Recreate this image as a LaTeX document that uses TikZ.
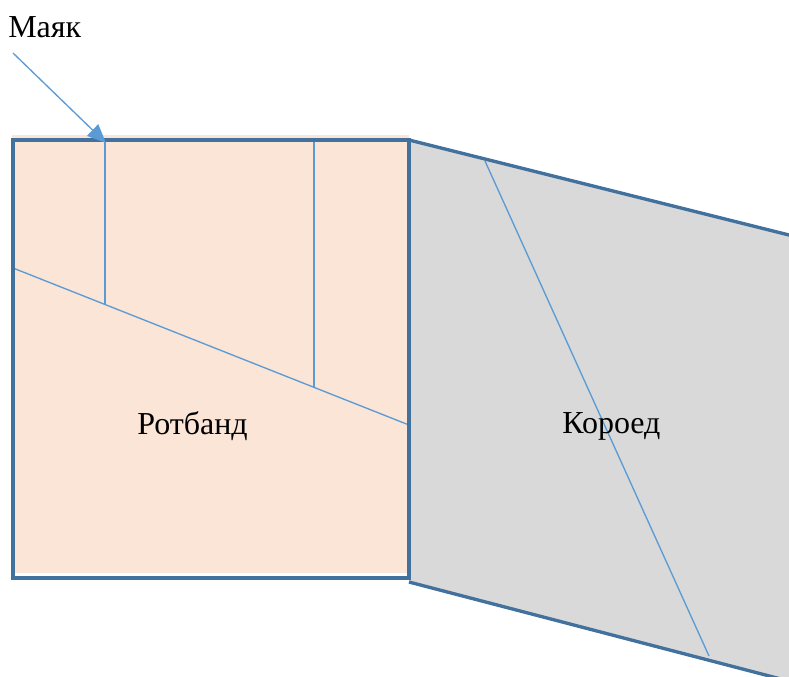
\documentclass[tikz,border=0pt]{standalone}
\usepackage{fontspec}
\setmainfont{Liberation Serif}
\usetikzlibrary{arrows.meta}
\definecolor{frame}{HTML}{41719C}
\definecolor{thin}{HTML}{5B9BD5}
\definecolor{peach}{HTML}{FBE5D6}
\definecolor{greyfill}{HTML}{D9D9D9}
\begin{document}
\begin{tikzpicture}[x=0.75pt,y=-0.75pt,
  frameline/.style={draw=frame,line width=2.5pt,line join=miter},
  thinline/.style={draw=thin,line width=1pt},
  label/.style={inner sep=0pt,anchor=base west,font=\fontsize{24}{28}\selectfont}]
\useasboundingbox (0,0) rectangle (789,676);
\begin{scope}
\clip (0,0) rectangle (789,676);
% grey wall
\fill[greyfill] (409,140) -- (869,255) -- (869,702) -- (409,582) -- cycle;
\draw[frameline] (409,140) -- (869,255);
\draw[frameline] (409,582) -- (869,702);
\coordinate (kt) at (485,161);
\coordinate (kb) at (709,656);
\draw[thinline] (kt) -- (kb);
\end{scope}
% peach part
\fill[peach] (12,135) rectangle (409,573);
\coordinate (dl) at (13,268);
\coordinate (dr) at (409,425);
\coordinate (v1t) at (105,140);
\coordinate (v1b) at (105,304);
\coordinate (v2t) at (314,140);
\coordinate (v2b) at (314,387);
\draw[thinline] (dl) -- (dr);
\draw[thinline] (v1t) -- (v1b);
\draw[thinline] (v2t) -- (v2b);
\draw[frameline] (13,140) rectangle (409,578);
% texts
\node[label] (rot) at (137,434) {Ротбанд};
\node[label] (kor) at (562,433) {Короед};
\node[label] (mayak) at (8,37) {Маяк};
\coordinate (as) at (13,53);
\coordinate (at) at (106,143);
\draw[thinline,-{Triangle[length=14pt,width=12pt]}] (as) -- (at);
\end{tikzpicture}
\end{document}
